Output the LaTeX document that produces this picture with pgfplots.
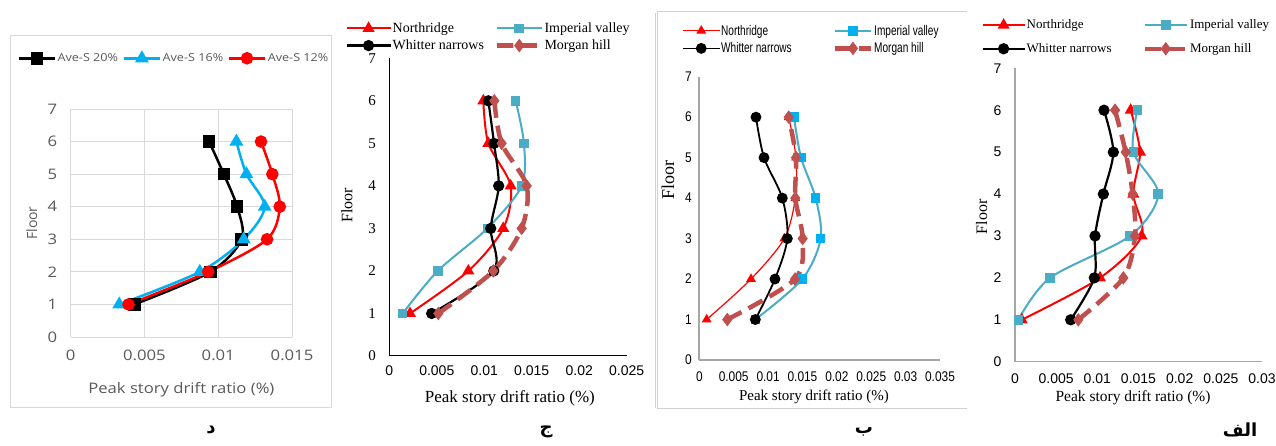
\documentclass[border=0pt]{standalone}
\usepackage{pgfplots}
\pgfplotsset{compat=1.18}
\usepackage{fontspec}
\setmainfont{Liberation Serif}
\newfontfamily\osans{Open Sans}
\newfontfamily\osansw[FakeStretch=1.15]{Open Sans}
\newfontfamily\lsans{Liberation Sans}
\newfontfamily\nsans[FakeStretch=0.85]{Liberation Sans}
\newfontfamily\nnsans[FakeStretch=0.72]{Liberation Sans}
\newfontfamily\arabicfont[Script=Arabic]{DejaVu Sans}
\TeXXeTstate=1
\definecolor{dgray}{HTML}{595959}
\definecolor{gridc}{HTML}{D9D9D9}
\definecolor{framec}{HTML}{D0D0D0}
\definecolor{ivc}{HTML}{4BACC6}
\definecolor{ivb}{HTML}{00B0F0}
\definecolor{mhc}{HTML}{C0504D}
\definecolor{axgray}{HTML}{A6A6A6}
\newcommand{\fs}[1]{\fontsize{#1}{#1}\selectfont}
\pgfplotsset{
  legimg/.style={legend image code/.code={\draw[##1, mark repeat=2, mark phase=2] plot coordinates {(0pt,0pt) (#1/2,0pt) (#1,0pt)};}},
  every axis/.append style={scale only axis, xmin=0, ymin=0, ymax=7, ytick={0,1,...,7},
    scaled x ticks=false, tick style={draw=none}, /pgf/number format/assume math mode=true,
    legend cell align=left, clip=false},
  nr/.style={red, line width=2pt, smooth, mark=triangle*, mark size=5pt, mark options={solid}},
  iv/.style={ivc, line width=2pt, smooth, mark=square*, mark size=3.8pt, mark options={solid}},
  wn/.style={black, line width=2.2pt, smooth, mark=*, mark size=4.5pt, mark options={solid}},
  mh/.style={mhc, line width=4.5pt, smooth, dash pattern=on 16pt off 8pt, mark=diamond*, mark size=6pt, mark options={solid, line width=1pt}},
}
\begin{document}
\begin{tikzpicture}[x=1pt,y=1pt]
\path[use as bounding box, fill=white] (0,0) rectangle (1276,446);
% frames
\draw[gridc, line width=1pt] (10,38) rectangle (331,410);
\draw[framec, line width=1pt] (655,433) -- (655,38);
\draw[framec, line width=1pt] (967,434) -- (657,434) -- (657,37) -- (967,37);

% ---------------- panel d ----------------
\begin{axis}[at={(70.7pt,109pt)}, anchor=south west, width=221.3pt, height=228pt,
  xmax=0.015, xtick={0,0.005,0.01,0.015}, xticklabels={0,0.005,0.01,0.015},
  grid=major, major grid style={gridc, line width=0.8pt}, axis line style={draw=none},
  ticklabel style={font=\osansw\fs{14.5}, text=dgray},
  xticklabel style={yshift=-9pt}, yticklabel style={xshift=-10pt},
  xlabel={Peak story drift ratio (\%)}, ylabel={Floor},
  xlabel style={font=\osansw\fs{14.5}, text=dgray, at={(axis description cs:0.5,-0.2325)}, anchor=center},
  ylabel style={font=\osans\fs{14}, text=dgray, at={(axis description cs:-0.176,0.5)}, anchor=center},
  legend columns=3, legimg=36pt,
  legend style={draw=none, fill=none, at={(axis description cs:0.4654,1.2224)}, anchor=center,
    font=\osansw\fs{11}, text=dgray, nodes={inner sep=1.5pt},
    /tikz/every even column/.append style={column sep=3pt}},
]
\addplot[black, line width=2.5pt, smooth, mark=square*, mark size=5pt] coordinates {(0.00431,1) (0.00947,2) (0.01159,3) (0.01128,4) (0.01038,5) (0.00938,6)};
\addlegendentry{Ave-S 20\%}
\addplot[ivb, line width=2.5pt, smooth, mark=triangle*, mark size=5.5pt] coordinates {(0.00329,1) (0.00875,2) (0.01173,3) (0.01315,4) (0.01191,5) (0.01123,6)};
\addlegendentry{Ave-S 16\%}
\addplot[red, line width=2.5pt, smooth, mark=*, mark size=5pt] coordinates {(0.00392,1) (0.00932,2) (0.01331,3) (0.01417,4) (0.01367,5) (0.0129,6)};
\addlegendentry{Ave-S 12\%}
\end{axis}

% ---------------- panel c ----------------
\begin{axis}[at={(389.3pt,90pt)}, anchor=south west, width=237.4pt, height=297.7pt,
  xmax=0.025, xtick={0,0.005,0.01,0.015,0.02,0.025}, xticklabels={0,0.005,0.01,0.015,0.02,0.025},
  axis x line*=bottom, axis y line*=left, axis line style={black, line width=1pt},
  xticklabel style={font=\lsans\fs{14}, yshift=-6pt}, yticklabel style={font=\fs{15}, xshift=-10pt},
  xlabel={Peak story drift ratio (\%)}, ylabel={Floor},
  xlabel style={font=\fs{17}, at={(axis description cs:0.508,-0.142)}, anchor=center},
  ylabel style={font=\fs{16}, at={(axis description cs:-0.179,0.507)}, anchor=center},
  legend columns=2, legimg=44pt,
  legend style={draw=none, fill=none, at={(axis description cs:0.416,1.0716)}, anchor=center,
    font=\fs{14}, nodes={inner sep=1pt}, row sep=4pt,
    /tikz/every even column/.append style={column sep=10pt}},
]
\addplot[nr] coordinates {(0.00218,1) (0.00832,2) (0.0120,3) (0.01278,4) (0.01043,5) (0.0099,6)};
\addlegendentry{Northridge}
\addplot[iv] coordinates {(0.00141,1) (0.0051,2) (0.01032,3) (0.01394,4) (0.01418,5) (0.01331,6)};
\addlegendentry{Imperial valley}
\addplot[wn] coordinates {(0.00446,1) (0.0110,2) (0.01068,3) (0.01152,4) (0.01103,5) (0.01043,6)};
\addlegendentry{Whitter narrows}
\addplot[mh] coordinates {(0.00516,1) (0.01095,2) (0.01394,3) (0.01447,4) (0.01183,5) (0.01106,6)};
\addlegendentry{Morgan hill}
\end{axis}

% ---------------- panel b ----------------
\begin{axis}[at={(699.3pt,86pt)}, anchor=south west, width=240.7pt, height=283.3pt,
  xmax=0.035, xtick={0,0.005,0.01,0.015,0.02,0.025,0.03,0.035}, xticklabels={0,0.005,0.01,0.015,0.02,0.025,0.03,0.035},
  axis x line*=bottom, axis y line*=left, axis line style={axgray, line width=2pt},
  xticklabel style={font=\nsans\fs{14}, yshift=-8pt}, yticklabel style={font=\nsans\fs{14}, xshift=-4pt},
  xlabel={Peak story drift ratio (\%)}, ylabel={Floor},
  xlabel style={font=\fs{15}, at={(axis description cs:0.4765,-0.1295)}, anchor=center},
  ylabel style={font=\fs{18}, at={(axis description cs:-0.130,0.635)}, anchor=center},
  legend columns=2, legimg=36pt,
  legend style={draw=none, fill=none, at={(axis description cs:0.464,1.131)}, anchor=center,
    font=\nnsans\fs{14}, nodes={inner sep=1pt}, row sep=4pt,
    /tikz/every even column/.append style={column sep=40pt}},
]
\addplot[nr, line width=1.2pt, mark size=4.5pt] coordinates {(0.00107,1) (0.00752,2) (0.01236,3) (0.01396,4) (0.01406,5) (0.0130,6)};
\addlegendentry{Northridge}
\addplot[iv, mark options={solid, fill=ivb, draw=ivb}] coordinates {(0.00815,1) (0.01498,2) (0.01765,3) (0.01692,4) (0.01479,5) (0.01377,6)};
\addlegendentry{Imperial valley}
\addplot[wn, line width=1.8pt] coordinates {(0.00815,1) (0.0110,2) (0.0128,3) (0.01207,4) (0.00941,5) (0.00824,6)};
\addlegendentry{Whitter narrows}
\addplot[mh] coordinates {(0.00407,1) (0.01392,2) (0.01503,3) (0.01396,4) (0.01406,5) (0.0130,6)};
\addlegendentry{Morgan hill}
\end{axis}

% ---------------- panel a ----------------
\begin{axis}[at={(1015pt,84.3pt)}, anchor=south west, width=247pt, height=293.4pt,
  xmax=0.03, xtick={0,0.005,0.01,0.015,0.02,0.025,0.03}, xticklabels={0,0.005,0.01,0.015,0.02,0.025,0.03},
  axis x line*=bottom, axis y line*=left, axis line style={axgray, line width=1.5pt},
  xticklabel style={font=\lsans\fs{14}, yshift=-8pt}, yticklabel style={font=\lsans\fs{14}, xshift=-10pt},
  xlabel={Peak story drift ratio (\%)}, ylabel={Floor},
  xlabel style={font=\fs{15.5}, at={(axis description cs:0.478,-0.1237)}, anchor=center},
  ylabel style={font=\fs{16}, at={(axis description cs:-0.135,0.494)}, anchor=center},
  legend columns=2, legimg=42pt,
  legend style={draw=none, fill=none, at={(axis description cs:0.4486,1.1067)}, anchor=center,
    font=\fs{13}, nodes={inner sep=1pt}, row sep=11pt,
    /tikz/every even column/.append style={column sep=30pt}},
]
\addplot[nr] coordinates {(0.00081,1) (0.01032,2) (0.01538,3) (0.01437,4) (0.01518,5) (0.01405,6)};
\addlegendentry{Northridge}
\addplot[iv] coordinates {(0.0004,1) (0.00425,2) (0.01397,3) (0.0174,4) (0.01437,5) (0.01486,6)};
\addlegendentry{Imperial valley}
\addplot[wn] coordinates {(0.00676,1) (0.00963,2) (0.00972,3) (0.01073,4) (0.01194,5) (0.01081,6)};
\addlegendentry{Whitter narrows}
\addplot[mh] coordinates {(0.00769,1) (0.01316,2) (0.01457,3) (0.01429,4) (0.01344,5) (0.01215,6)};
\addlegendentry{Morgan hill}
\end{axis}

% panel letters
\node[font=\arabicfont\bfseries\fs{18}] at (211,16) {\beginR د\endR};
\node[font=\arabicfont\bfseries\fs{18}] at (546,14) {\beginR ج\endR};
\node[font=\arabicfont\bfseries\fs{18}] at (864,14) {\beginR ب\endR};
\node[font=\arabicfont\bfseries\fs{18}] at (1240,16) {\beginR الف\endR};
\end{tikzpicture}
\end{document}
